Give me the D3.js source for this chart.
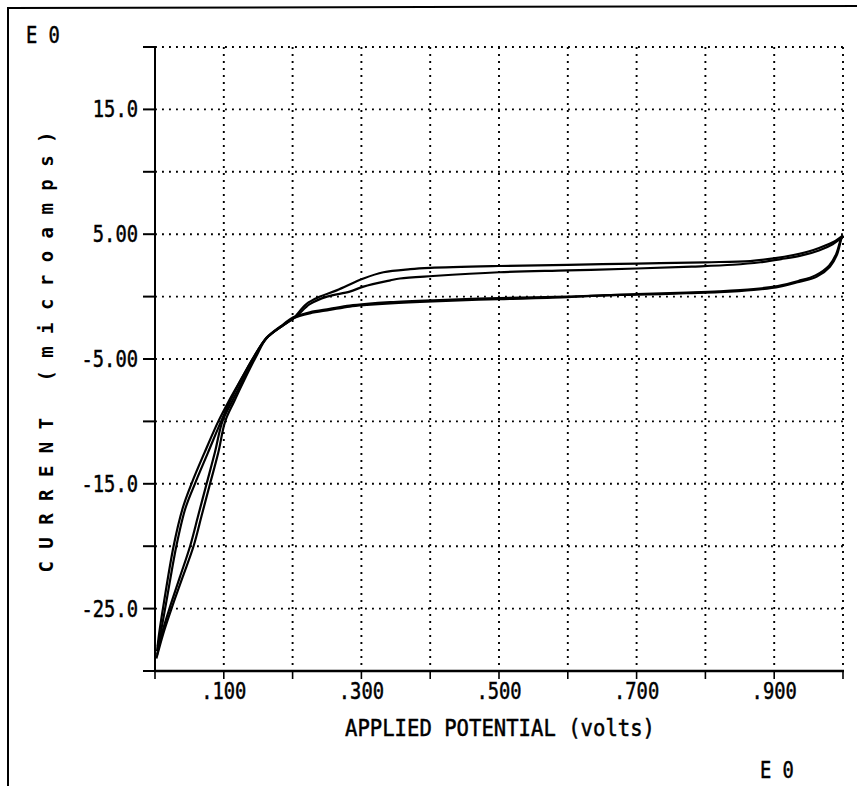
<!DOCTYPE html>
<html>
<head>
<meta charset="utf-8">
<script src="https://cdn.jsdelivr.net/npm/d3@7"></script>
<style>
  body { margin: 0; background: #fff; }
  svg { display: block; }
</style>
</head>
<body>
<div id="chart"></div>
<script>
// tick values / labels
const yTicks = [-30, -25, -20, -15, -10, -5, 0, 5, 10, 15, 20];
const yLabels = { "15": "15.0", "5": "5.00", "-5": "-5.00", "-15": "-15.0", "-25": "-25.0" };
const xTicks = [0, 0.1, 0.2, 0.3, 0.4, 0.5, 0.6, 0.7, 0.8, 0.9, 1.0];
const xLabels = { "0.1": ".100", "0.3": ".300", "0.5": ".500", "0.7": ".700", "0.9": ".900" };

// sweep 1, reverse (upper branch)
const potA = [1.000, 0.990, 0.976, 0.957, 0.928, 0.899, 0.865, 0.80, 0.70, 0.60, 0.50, 0.40, 0.371, 0.332, 0.303, 0.264, 0.240, 0.220, 0.201, 0.187, 0.162, 0.144, 0.126, 0.107, 0.092, 0.072, 0.053, 0.040, 0.027, 0.013, 0.006, 0.003];
const curA = [4.9, 4.5, 4.13, 3.73, 3.33, 3.06, 2.85, 2.75, 2.65, 2.55, 2.45, 2.3, 2.2, 1.95, 1.45, 0.5, 0.0, -0.6, -1.74, -2.27, -3.34, -4.8, -6.55, -8.4, -10.0, -12.5, -15.0, -17.0, -20.0, -24.5, -27.0, -28.4];

// sweep 2, reverse (middle branch)
const potB = [1.000, 0.985, 0.965, 0.94, 0.91, 0.88, 0.84, 0.78, 0.70, 0.60, 0.50, 0.404, 0.356, 0.342, 0.303, 0.283, 0.250, 0.225, 0.205, 0.187, 0.162, 0.144, 0.126, 0.109, 0.096, 0.077, 0.058, 0.044, 0.031, 0.016, 0.008, 0.004];
const curB = [4.8, 4.2, 3.7, 3.3, 3.0, 2.75, 2.55, 2.4, 2.25, 2.1, 1.95, 1.65, 1.45, 1.3, 0.8, 0.4, 0.0, -0.6, -1.6, -2.27, -3.34, -4.8, -6.55, -8.4, -10.0, -12.5, -15.0, -17.0, -20.0, -24.6, -27.0, -28.0];

// sweep 1, forward (lower branch)
const potC = [0.002, 0.012, 0.024, 0.040, 0.056, 0.068, 0.080, 0.092, 0.102, 0.115, 0.131, 0.147, 0.162, 0.187, 0.201, 0.225, 0.254, 0.283, 0.308, 0.342, 0.404, 0.50, 0.60, 0.65, 0.70, 0.773, 0.82, 0.87, 0.908, 0.9375, 0.962, 0.981, 0.991, 0.998, 1.000];
const curC = [-29.0, -27.0, -25.0, -22.5, -20.0, -17.5, -15.0, -12.5, -10.0, -8.4, -6.55, -4.8, -3.34, -2.27, -1.74, -1.34, -1.07, -0.8, -0.67, -0.54, -0.38, -0.2, -0.05, 0.1, 0.15, 0.27, 0.35, 0.53, 0.8, 1.2, 1.6, 2.4, 3.33, 4.7, 4.9];

// sweep 2, forward (lower branch)
const potD = [0.003, 0.010, 0.021, 0.036, 0.051, 0.063, 0.075, 0.087, 0.098, 0.112, 0.129, 0.146, 0.162, 0.187, 0.201, 0.225, 0.254, 0.283, 0.308, 0.342, 0.404, 0.50, 0.60, 0.70, 0.773, 0.82, 0.87, 0.905, 0.935, 0.96, 0.98, 0.99, 0.997, 1.000];
const curD = [-28.7, -27.0, -25.0, -22.5, -20.0, -17.5, -15.0, -12.5, -10.0, -8.4, -6.55, -4.7, -3.3, -2.2, -1.66, -1.25, -0.98, -0.72, -0.58, -0.45, -0.3, -0.12, 0.0, 0.2, 0.32, 0.42, 0.6, 0.85, 1.25, 1.7, 2.5, 3.4, 4.6, 4.85];

const sweeps = [
    [potA, curA],
    [potB, curB],
    [potC, curC],
    [potD, curD],
];

const width = 857;
const height = 786;
const font = "'DejaVu Sans Mono', 'Liberation Mono', monospace";
const charW = 11.3;

const svg = d3
    .select("#chart")
    .append("svg")
    .attr("width", width)
    .attr("height", height);

svg.append("rect").attr("width", width).attr("height", height).attr("fill", "#fff");

// page frame (left + top only)
svg.append("line")
    .attr("x1", 8).attr("y1", 8).attr("x2", width).attr("y2", 6)
    .attr("stroke", "#000").attr("stroke-width", 2);
svg.append("line")
    .attr("x1", 8).attr("y1", 7).attr("x2", 8).attr("y2", height)
    .attr("stroke", "#000").attr("stroke-width", 2);

const x = d3.scaleLinear().domain([0, 1]).range([155, 843]);
const y = d3.scaleLinear().domain([-30, 20]).range([671, 47]);

// dotted grid
const grid = svg.append("g")
    .attr("stroke", "#000")
    .attr("stroke-width", 1.9)
    .attr("stroke-dasharray", "1.9,5.1");

grid.selectAll(".gx")
    .data(xTicks.filter((d) => d > 0))
    .enter()
    .append("line")
    .attr("x1", (d) => x(d)).attr("x2", (d) => x(d))
    .attr("y1", y(20)).attr("y2", y(-30));

grid.selectAll(".gy")
    .data(yTicks.filter((d) => d > -30))
    .enter()
    .append("line")
    .attr("x1", x(0)).attr("x2", x(1))
    .attr("y1", (d) => y(d)).attr("y2", (d) => y(d));

// axes
svg.append("line")
    .attr("x1", x(0)).attr("x2", x(0))
    .attr("y1", y(20)).attr("y2", y(-30))
    .attr("stroke", "#000").attr("stroke-width", 2);
svg.append("line")
    .attr("x1", x(0) - 1).attr("x2", x(1) + 1)
    .attr("y1", y(-30)).attr("y2", y(-30))
    .attr("stroke", "#000").attr("stroke-width", 2.5);

svg.selectAll(".ty")
    .data(yTicks)
    .enter()
    .append("line")
    .attr("x1", x(0) - 12).attr("x2", x(0))
    .attr("y1", (d) => y(d)).attr("y2", (d) => y(d))
    .attr("stroke", "#000").attr("stroke-width", 2);

svg.selectAll(".tx")
    .data(xTicks)
    .enter()
    .append("line")
    .attr("x1", (d) => x(d)).attr("x2", (d) => x(d))
    .attr("y1", y(-30)).attr("y2", y(-30) + 8)
    .attr("stroke", "#000").attr("stroke-width", 1.6);

const addText = (str, px, py, anchor) => {
    return svg.append("text")
        .attr("x", px)
        .attr("y", py)
        .attr("text-anchor", anchor)
        .attr("font-family", font)
        .attr("font-size", 23)
        .attr("textLength", str.length * charW)
        .attr("lengthAdjust", "spacingAndGlyphs")
        .attr("fill", "#000")
        .attr("stroke", "#000")
        .attr("stroke-width", 0.5)
        .text(str);
};

yTicks.filter((d) => yLabels[d]).forEach((d) => {
    addText(yLabels[d], 138, y(d) + 8, "end");
});

xTicks.filter((d) => xLabels[d]).forEach((d) => {
    addText(xLabels[d], x(d), 699, "middle");
});

addText("E 0", 26, 43, "start");
addText("E 0", 760, 778, "start");
addText("APPLIED POTENTIAL (volts)", 500, 736, "middle").attr("textLength", 310);

// y title, rotated
svg.append("text")
    .attr("transform", `translate(53, 352) rotate(-90)`)
    .attr("text-anchor", "middle")
    .attr("font-family", font)
    .attr("font-size", 19)
    .attr("font-weight", "bold")
    .attr("textLength", 441)
    .attr("lengthAdjust", "spacing")
    .text("CURRENT (microamps)");

// voltammogram traces
const line = d3
    .line()
    .x((d) => x(d[0]))
    .y((d) => y(d[1]))
    .curve(d3.curveCatmullRom.alpha(0.5));

svg.append("g")
    .selectAll("path")
    .data(sweeps.map(([p, c]) => p.map((v, i) => [v, c[i]])))
    .enter()
    .append("path")
    .attr("d", line)
    .attr("fill", "none")
    .attr("stroke", "#000")
    .attr("stroke-width", 2.2);
</script>
</body>
</html>
